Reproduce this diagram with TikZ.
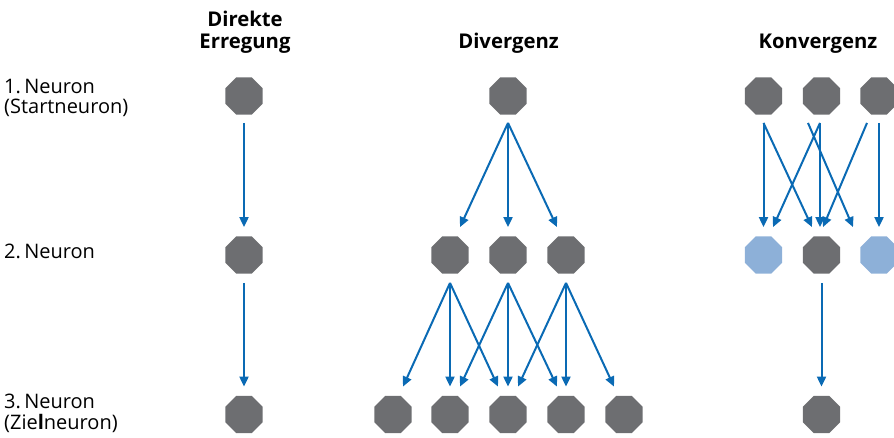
\documentclass[tikz,border=0pt]{standalone}
\usepackage{fontspec}
\setmainfont{Open Sans}
\usetikzlibrary{shapes.geometric,arrows.meta}
\definecolor{cellgray}{HTML}{6D6E71}
\definecolor{cellblue}{HTML}{8DB0D8}
\definecolor{linkblue}{HTML}{0A6AB4}
\begin{document}
\begin{tikzpicture}[x=1pt,y=1pt,
  cell/.style={regular polygon, regular polygon sides=8, minimum size=40.5pt,
    inner sep=0pt, fill=cellgray},
  idle/.style={cell, fill=cellblue},
  link/.style={draw=linkblue, line width=2pt, -{Triangle[length=10pt,width=9pt]}},
  lbl/.style={anchor=base west, inner sep=0pt, font=\fontsize{20}{24}\selectfont},
  head/.style={anchor=base, inner sep=0pt, font=\fontsize{20.3}{24}\selectfont\bfseries}]
\useasboundingbox (0,0) rectangle (894,-437);
\clip (0,0) rectangle (894,-437);

% row labels
\node[lbl] (l1a) at (4,-93) {1.\,Neuron};
\node[lbl] (l1b) at (4,-113) {(Startneuron)};
\node[lbl] (l2) at (4,-258) {2.\,Neuron};
\node[lbl] (l3a) at (4,-408) {3.\,Neuron};
\node[lbl] (l3b) at (4,-429) {(Zie\textbf{l}neuron)};

% column headings
\node[head] (h1a) at (245,-26) {Direkte};
\node[head] (h1b) at (245,-48) {Erregung};
\node[head] (h2) at (508.5,-48) {Divergenz};
\node[head] (h3) at (818,-48) {Konvergenz};

% direct excitation
\node[cell] (d1) at (244,-96) {};
\node[cell] (d2) at (244,-255) {};
\node[cell] (d3) at (244,-414.5) {};
\draw[link] ([yshift=-8]d1.south) -- ([yshift=9]d2.north);
\draw[link] ([yshift=-9]d2.south) -- ([yshift=9]d3.north);

% divergence
\node[cell] (v1) at (508,-96) {};
\node[cell] (v2a) at (450,-255) {};
\node[cell] (v2b) at (508,-255) {};
\node[cell] (v2c) at (566,-255) {};
\node[cell] (v3a) at (393,-414.5) {};
\node[cell] (v3b) at (450,-414.5) {};
\node[cell] (v3c) at (508,-414.5) {};
\node[cell] (v3d) at (566,-414.5) {};
\node[cell] (v3e) at (624,-414.5) {};
\draw[link] ([yshift=-8]v1.south) -- ([xshift=10,yshift=9]v2a.north);
\draw[link] ([yshift=-8]v1.south) -- ([yshift=9]v2b.north);
\draw[link] ([yshift=-8]v1.south) -- ([xshift=-9,yshift=9]v2c.north);
\draw[link] ([yshift=-9]v2a.south) -- ([xshift=10,yshift=9]v3a.north);
\draw[link] ([yshift=-9]v2a.south) -- ([yshift=9]v3b.north);
\draw[link] ([yshift=-9]v2a.south) -- ([xshift=-10,yshift=9]v3c.north);
\draw[link] ([yshift=-9]v2b.south) -- ([xshift=10,yshift=9]v3b.north);
\draw[link] ([yshift=-9]v2b.south) -- ([yshift=9]v3c.north);
\draw[link] ([yshift=-9]v2b.south) -- ([xshift=-9,yshift=9]v3d.north);
\draw[link] ([yshift=-9]v2c.south) -- ([xshift=10,yshift=9]v3c.north);
\draw[link] ([yshift=-9]v2c.south) -- ([yshift=9]v3d.north);
\draw[link] ([yshift=-9]v2c.south) -- ([xshift=-10,yshift=9]v3e.north);

% convergence
\node[cell] (k1a) at (763.5,-96) {};
\node[cell] (k1b) at (821.5,-96) {};
\node[cell] (k1c) at (879,-96) {};
\node[idle] (k2a) at (763.5,-255) {};
\node[cell] (k2b) at (821.5,-255) {};
\node[idle] (k2c) at (879,-255) {};
\node[cell] (k3) at (821.5,-414.5) {};
\draw[link] ([yshift=-8]k1a.south) -- ([yshift=9]k2a.north);
\draw[link] ([yshift=-8]k1a.south) -- ([xshift=-9.5,yshift=9]k2b.north);
\draw[link] ([xshift=-1.5,yshift=-8]k1b.south) -- ([xshift=9.5,yshift=9]k2a.north);
\draw[link] ([xshift=-1.5,yshift=-8]k1b.south) -- ([xshift=-1.5,yshift=9]k2b.north);
\draw[link] ([xshift=-13.5,yshift=-8]k1b.south) -- ([xshift=-26,yshift=9]k2c.north);
\draw[link] ([xshift=-12,yshift=-8]k1c.south) -- ([xshift=1.5,yshift=9]k2b.north);
\draw[link] ([yshift=-8]k1c.south) -- ([yshift=9]k2c.north);
\draw[link] ([yshift=-9]k2b.south) -- ([yshift=9]k3.north);
\end{tikzpicture}
\end{document}
